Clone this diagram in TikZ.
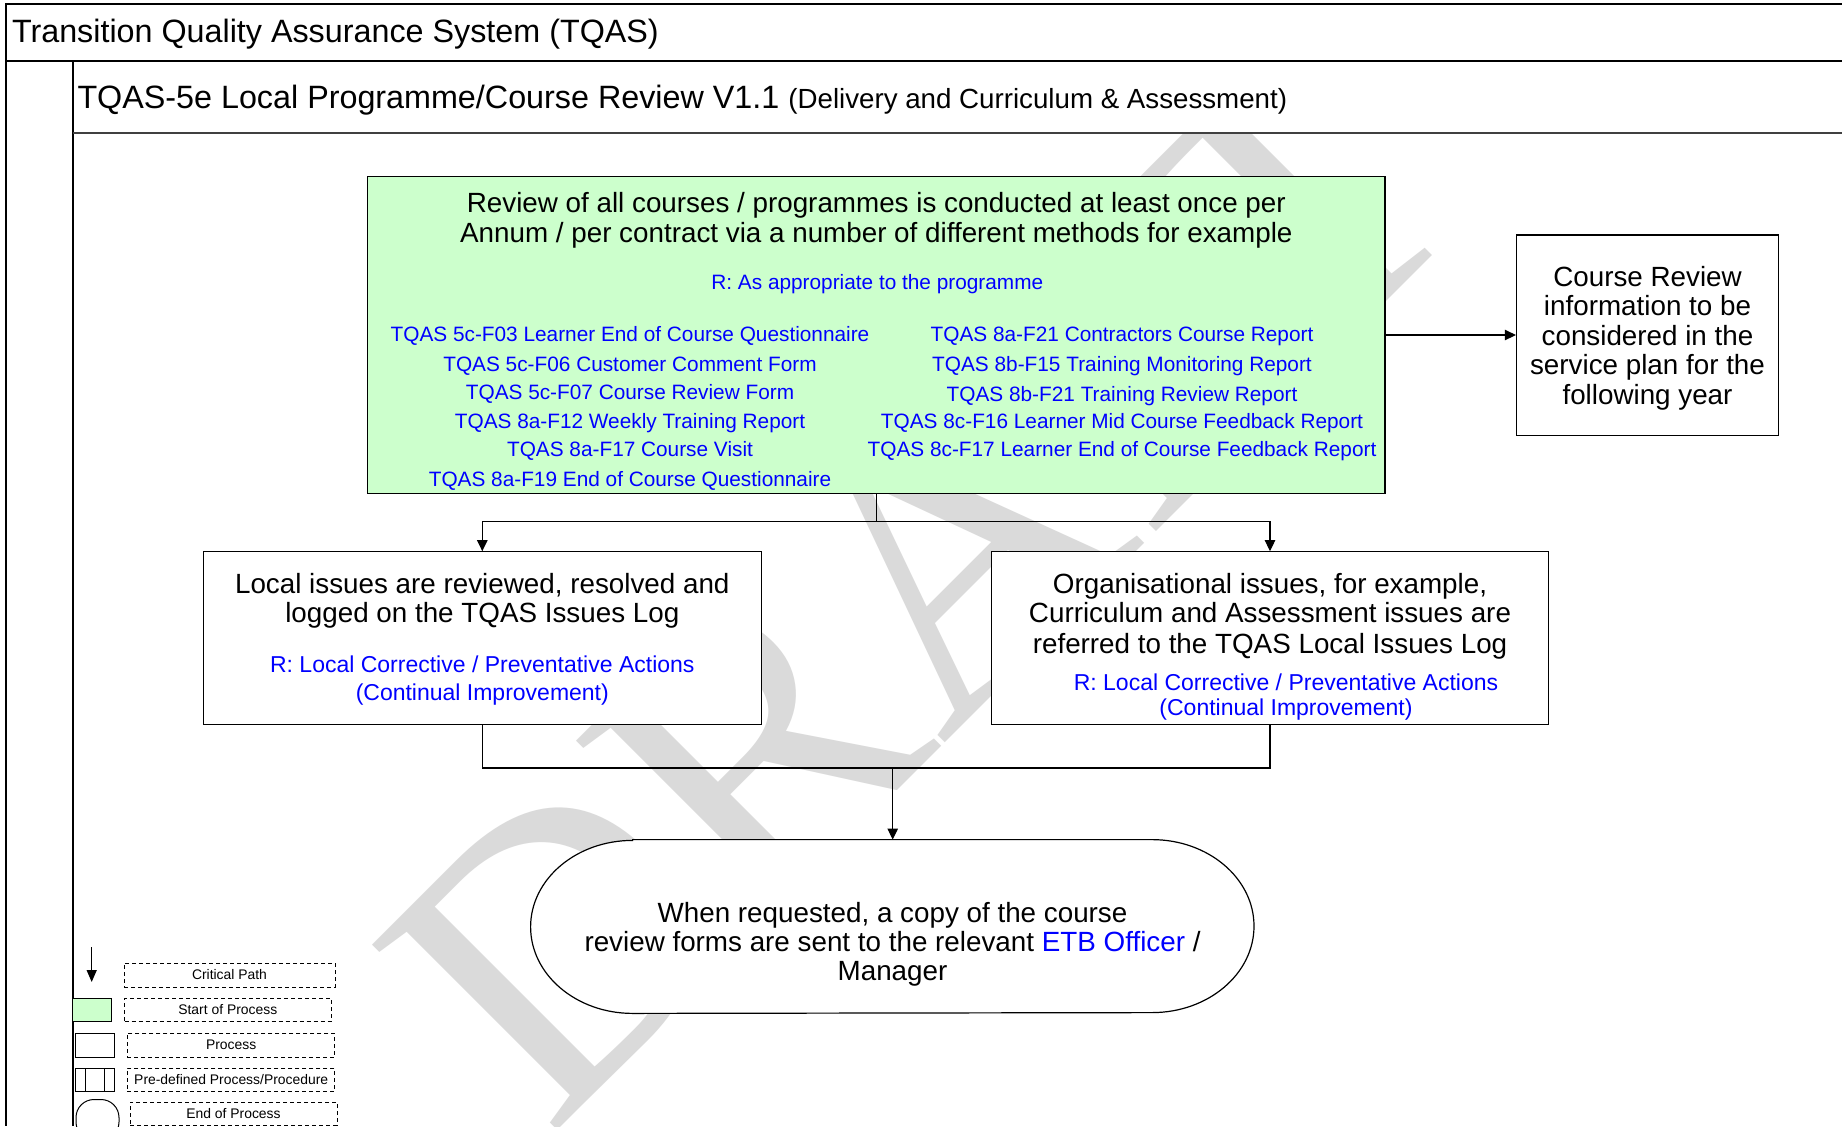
\documentclass[tikz,border=0pt]{standalone}
\usepackage{fontspec}
\setmainfont{Liberation Sans}
\newfontfamily\wmfont{Liberation Serif}
\usetikzlibrary{arrows.meta}
\definecolor{tqgreen}{RGB}{204,255,204}
\definecolor{tqblue}{RGB}{0,0,255}
\definecolor{wmgray}{RGB}{218,218,218}
\begin{document}
\begin{tikzpicture}[x=0.5pt,y=-0.5pt,
  frameline/.style={line width=1pt,draw=black},
  boxline/.style={draw=black,line width=0.6pt},
  conn/.style={draw=black,line width=0.55pt},
  arr/.style={conn,-{Triangle[length=5.5pt,width=5.2pt]}},
  txt/.style={inner sep=0pt,outer sep=0pt,anchor=base},
  blk/.style={txt,font=\fontsize{13.9}{16}\selectfont},
  bsm/.style={txt,text=tqblue,font=\fontsize{10.4}{12}\selectfont},
  bmd/.style={txt,text=tqblue,font=\fontsize{11.5}{13}\selectfont},
  legbox/.style={draw=black,line width=0.5pt,dash pattern=on 2pt off 1.5pt,inner sep=0pt,font=\fontsize{6.95}{8}\selectfont},
  legshape/.style={draw=black,line width=0.5pt,inner sep=0pt},
]
\useasboundingbox (0,0) rectangle (1842,1126);
\fill[white] (0,0) rectangle (1842,1126);

% watermark
\begin{scope}
\clip (73,134) rectangle (1842,1126);
\node[rotate=45,anchor=base west,inner sep=0pt,text=wmgray,font=\wmfont\fontsize{200}{200}\selectfont] (wm) at (549,1139) {DRAFT};
\end{scope}

% frame
\draw[frameline] (1842,3.5) -- (5.5,3.5) -- (5.5,1126);
\draw[frameline] (5.5,61) -- (1842,61);
\draw[frameline] (72.5,61) -- (72.5,1126);
\draw[line width=1pt,draw=black!75] (72.5,133) -- (1842,133);

% titles
\node[txt,anchor=base west,font=\fontsize{16.15}{19}\selectfont] (title) at (12,42) {Transition Quality Assurance System (TQAS)};
\node[txt,anchor=base west,font=\fontsize{16.15}{19}\selectfont] (subtitle) at (77.5,108) {TQAS-5e Local Programme/Course Review V1.1 {\fontsize{13.85}{16}\selectfont (Delivery and Curriculum \& Assessment)}};

% boxes
\node[boxline,fill=tqgreen,minimum width=508.7pt,minimum height=158.5pt,inner sep=0pt] (green) at (876.3,335) {};
\node[boxline,fill=white,minimum width=131pt,minimum height=100.4pt,inner sep=0pt] (plan) at (1647.5,335.4) {};
\node[boxline,fill=white,minimum width=279pt,minimum height=86.3pt,inner sep=0pt] (lbox) at (482.3,638.1) {};
\node[boxline,fill=white,minimum width=278.3pt,minimum height=86.3pt,inner sep=0pt] (rbox) at (1270,638.1) {};
\node[inner sep=0pt,minimum width=361.3pt,minimum height=86.5pt] (term) at (892.3,926.5) {};
\draw[boxline,fill=white] ([xshift=51pt]term.north west) -- ([xshift=-51pt]term.north east)
  arc[start angle=90,end angle=-90,x radius=51pt,y radius=43.25pt]
  -- ([xshift=51pt]term.south west)
  arc[start angle=270,end angle=90,x radius=51pt,y radius=43.25pt] -- cycle;

% green box text
\node[blk] (g1) at (876.3,212) {Review of all courses / programmes is conducted at least once per};
\node[blk] (g2) at (876.3,242) {Annum / per contract via a number of different methods for example};
\node[bsm] (gr) at (877.3,289) {R: As appropriate to the programme};
\node[bsm] (l1) at (630,341.8) {TQAS 5c-F03 Learner End of Course Questionnaire};
\node[bsm] (l2) at (630,371.2) {TQAS 5c-F06 Customer Comment Form};
\node[bsm] (l3) at (630,399.4) {TQAS 5c-F07 Course Review Form};
\node[bsm] (l4) at (630,428.7) {TQAS 8a-F12 Weekly Training Report};
\node[bsm] (l5) at (630,456.9) {TQAS 8a-F17 Course Visit};
\node[bsm] (l6) at (630,486.3) {TQAS 8a-F19 End of Course Questionnaire};
\node[bsm] (r1) at (1122,341.8) {TQAS 8a-F21 Contractors Course Report};
\node[bsm] (r2) at (1122,371.2) {TQAS 8b-F15 Training Monitoring Report};
\node[bsm] (r3) at (1122,401.7) {TQAS 8b-F21 Training Review Report};
\node[bsm] (r4) at (1122,428.7) {TQAS 8c-F16 Learner Mid Course Feedback Report};
\node[bsm] (r5) at (1122,456.9) {TQAS 8c-F17 Learner End of Course Feedback Report};

% plan box text
\node[blk] (p1) at (1647.5,286) {Course Review};
\node[blk] (p2) at (1647.5,315.5) {information to be};
\node[blk] (p3) at (1647.5,345) {considered in the};
\node[blk] (p4) at (1647.5,374.5) {service plan for the};
\node[blk] (p5) at (1647.5,404) {following year};

% left box text
\node[blk] (lb1) at (482.3,593.5) {Local issues are reviewed, resolved and};
\node[blk] (lb2) at (482.3,622.5) {logged on the TQAS Issues Log};
\node[bmd] (lb3) at (482.3,672) {R: Local Corrective / Preventative Actions};
\node[bmd] (lb4) at (482.3,700) {(Continual Improvement)};

% right box text
\node[blk] (rb1) at (1270,593.5) {Organisational issues, for example,};
\node[blk] (rb2) at (1270,622.5) {Curriculum and Assessment issues are};
\node[blk] (rb3) at (1270,653) {referred to the TQAS Local Issues Log};
\node[bmd] (rb4) at (1286,690.7) {R: Local Corrective / Preventative Actions};
\node[bmd] (rb5) at (1286,715) {(Continual Improvement)};

% terminal text
\node[blk] (t1) at (892.5,922) {When requested, a copy of the course};
\node[blk] (t2) at (892.5,951) {review forms are sent to the relevant \textcolor{tqblue}{ETB Officer} /};
\node[blk] (t3) at (892.5,980) {Manager};

% connectors
\coordinate (split) at (876.3,521.6);
\coordinate (join) at (892.7,768);
\draw[arr] (green.east) -- (green.east -| plan.west);
\draw[conn] (green.south) -- (split);
\draw[arr] (split) -| (lbox.north);
\draw[arr] (split) -| (rbox.north);
\draw[conn] (lbox.south) |- (join) -| (rbox.south);
\draw[arr] (join) -- (join |- term.north);

% legend
\coordinate (la1) at (91.7,947);
\coordinate (la2) at (91.7,982);
\draw[conn,line width=0.7pt,-{Triangle[length=6pt,width=5pt]}] (la1) -- (la2);
\node[legbox,minimum width=105.5pt,minimum height=12pt] (lgcp) at (229.5,975) {Critical Path};
\node[legshape,fill=tqgreen,minimum width=19.4pt,minimum height=11.5pt] (lgs) at (92.1,1009.5) {};
\node[legbox,minimum width=103.25pt,minimum height=11.5pt] (lgst) at (227.8,1009.5) {Start of Process};
\node[legshape,minimum width=19.5pt,minimum height=12pt] (lgp) at (94.5,1045) {};
\node[legbox,minimum width=103.75pt,minimum height=12pt] (lgpt) at (231.2,1045) {Process};
\node[legshape,minimum width=19.5pt,minimum height=11.5pt] (lgd) at (94.5,1079.5) {};
\draw[line width=0.5pt] (85,1068) -- (85,1091) (104.3,1068) -- (104.3,1091);
\node[legbox,minimum width=103.75pt,minimum height=11.5pt] (lgdt) at (231.2,1079.5) {Pre-defined Process/Procedure};
\begin{scope}
\clip (70,1090) rectangle (130,1126);
\draw[line width=0.5pt,rounded corners=9pt] (76,1099.5) rectangle (119,1140);
\end{scope}
\node[legbox,minimum width=103.5pt,minimum height=11.5pt] (lget) at (233.5,1113.5) {End of Process};
\end{tikzpicture}
\end{document}
